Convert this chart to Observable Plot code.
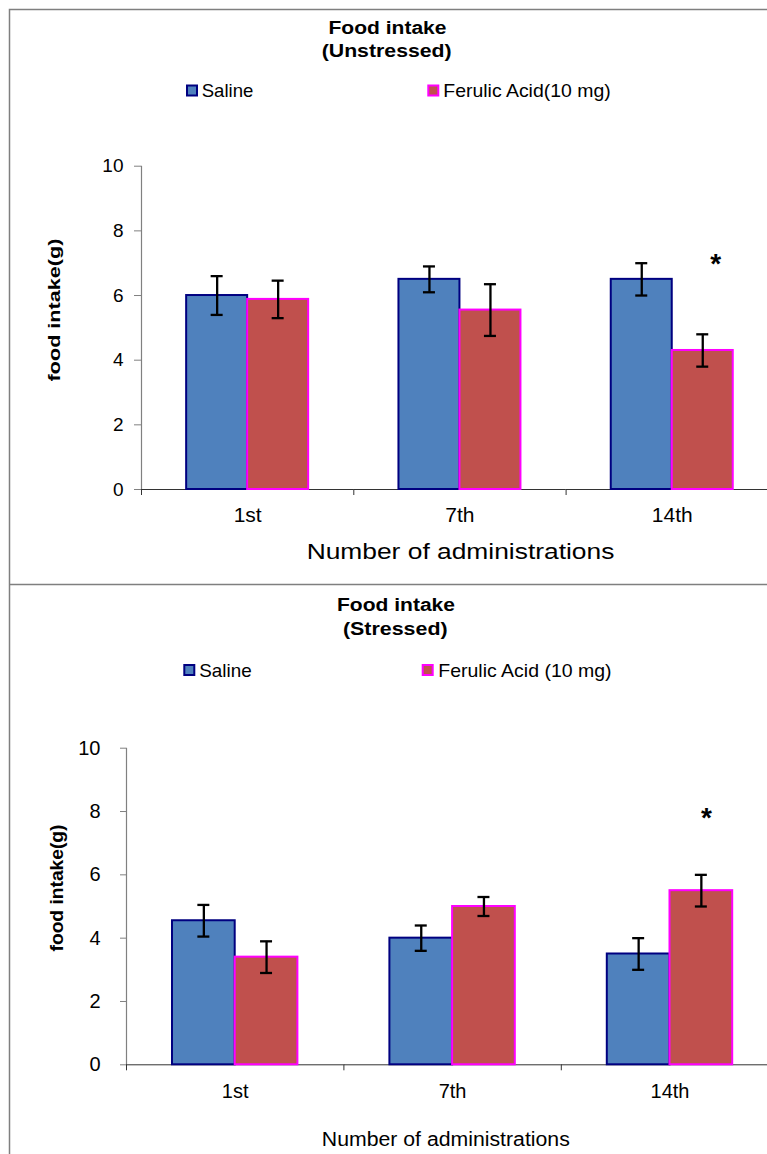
<!DOCTYPE html>
<html>
<head>
<meta charset="utf-8">
<script src="https://cdn.jsdelivr.net/npm/d3@7"></script>
<script src="https://cdn.jsdelivr.net/npm/@observablehq/plot@0.6"></script>
<style>
html, body { margin: 0; padding: 0; background: #fff; }
#page { position: relative; width: 767px; height: 1154px; overflow: hidden; font-family: "Liberation Sans", Arial, sans-serif; color: #000; }
.chart { position: absolute; left: 0; width: 800px; }
.chart svg { max-width: none !important; }
</style>
</head>
<body>
<div id="page"></div>
<script>
// ---------- data ----------
const categories = ["1st", "7th", "14th"];
const seriesKeys = ["Saline", "Ferulic Acid"];
const unstressedLegend = ["Saline", "Ferulic Acid(10 mg)"];
const stressedLegend = ["Saline", "Ferulic Acid (10 mg)"];

const unstressedSaline = [6.0, 6.5, 6.5];
const unstressedSalineErr = [0.6, 0.4, 0.5];
const unstressedFerulic = [5.88, 5.55, 4.3];
const unstressedFerulicErr = [0.58, 0.8, 0.5];

const stressedSaline = [4.55, 4.0, 3.5];
const stressedSalineErr = [0.5, 0.4, 0.5];
const stressedFerulic = [3.4, 5.0, 5.5];
const stressedFerulicErr = [0.5, 0.3, 0.5];

const yTicks = [0, 2, 4, 6, 8, 10];
const unstressedStar = [{category: "14th", value: 7.18}];
const stressedStar = [{category: "14th", value: 8.03}];

const titleMain = "Food intake";
const titleUnstressed = "(Unstressed)";
const titleStressed = "(Stressed)";
const xTitle = "Number of administrations";
const yTitle = "food intake(g)";

// ---------- helpers ----------
function buildRows(sal, salErr, fer, ferErr) {
  const rows = [];
  categories.forEach((c, i) => {
    rows.push({category: c, series: seriesKeys[0], value: sal[i], err: salErr[i]});
    rows.push({category: c, series: seriesKeys[1], value: fer[i], err: ferErr[i]});
  });
  return rows;
}

const FONT = "Liberation Sans, Arial, sans-serif";

function panel(cfg) {
  const rows = buildRows(cfg.sal, cfg.salErr, cfg.fer, cfg.ferErr);
  const width = 800;
  const marginRight = width - cfg.marginLeft - cfg.bandWidth * 3;
  const pOuter = (cfg.bandWidth / cfg.barW - 2) / 2;
  const cap = 12;
  const capInset = (cfg.barW - cap) / 2;
  const halfOff = cfg.bandWidth / 2 - cfg.barW / 2;
  const plot = Plot.plot({
    width,
    height: cfg.height,
    marginLeft: cfg.marginLeft,
    marginRight,
    marginTop: cfg.yTop,
    marginBottom: cfg.height - cfg.yZero,
    fx: {domain: categories, padding: 0, round: false, label: null},
    x: {domain: seriesKeys, paddingInner: 0, paddingOuter: pOuter, round: false, axis: null},
    y: {domain: [0, 10], axis: null},
    style: {fontFamily: FONT, background: "transparent", color: "#000", overflow: "visible", maxWidth: "none"},
    marks: [
      Plot.ruleY([0], {stroke: "#333", strokeWidth: 1}),
      Plot.barY(rows, {filter: d => d.series === seriesKeys[0], fx: "category", x: "series", y: "value",
        fill: "#4F81BD", stroke: "#000080", strokeWidth: 2}),
      Plot.barY(rows, {filter: d => d.series === seriesKeys[1], fx: "category", x: "series", y: "value",
        fill: "#C0504D", stroke: "#FF00FF", strokeWidth: 2}),
      Plot.ruleX(rows, {fx: "category", x: "series", y1: d => d.value - d.err, y2: d => d.value + d.err,
        stroke: "#000", strokeWidth: 2.3}),
      Plot.tickY(rows, {fx: "category", x: "series", y: d => d.value - d.err,
        insetLeft: capInset, insetRight: capInset, stroke: "#000", strokeWidth: 2.3}),
      Plot.tickY(rows, {fx: "category", x: "series", y: d => d.value + d.err,
        insetLeft: capInset, insetRight: capInset, stroke: "#000", strokeWidth: 2.3}),
      Plot.text(cfg.star, {fx: "category", x: () => seriesKeys[1], y: "value", text: () => "*",
        fontSize: 28, fontWeight: "bold", dx: cfg.starDx, dy: 7, fill: "#000"}),
      Plot.ruleX([categories[0]], {fx: d => d, x: () => seriesKeys[0], y1: 0, y2: 10,
        dx: -halfOff, stroke: "#808080", strokeWidth: 1.2}),
      Plot.axisY({ticks: yTicks, tickSize: cfg.yTickSize, tickPadding: cfg.yTickPadding,
        fontSize: cfg.yFont, stroke: "#808080", fill: "#000", label: null}),
      Plot.axisFx({anchor: "bottom", tickSize: 0, tickPadding: cfg.xTickPadding,
        fontSize: cfg.xFont, fill: "#000", label: null}),
      Plot.axisFx({anchor: "bottom", tickSize: 6, fill: "none", stroke: "#333",
        dx: -cfg.bandWidth / 2, label: null})
    ]
  });
  plot.style.maxWidth = "none";
  const div = document.createElement("div");
  div.className = "chart";
  div.style.top = cfg.top + "px";
  div.appendChild(plot);
  document.getElementById("page").appendChild(div);
}

panel({
  top: 0, height: 584, marginLeft: 141, bandWidth: 212.3, barW: 61,
  yTop: 165.7, yZero: 489,
  sal: unstressedSaline, salErr: unstressedSalineErr, fer: unstressedFerulic, ferErr: unstressedFerulicErr,
  star: unstressedStar, starDx: 13,
  yTickSize: 7, yTickPadding: 11, yFont: 19, xTickPadding: 18, xFont: 21
});

panel({
  top: 584, height: 570, marginLeft: 126, bandWidth: 217.4, barW: 62.7,
  yTop: 163.7, yZero: 480.3,
  sal: stressedSaline, salErr: stressedSalineErr, fer: stressedFerulic, ferErr: stressedFerulicErr,
  star: stressedStar, starDx: 5,
  yTickSize: 6, yTickPadding: 20, yFont: 20, xTickPadding: 19, xFont: 20
});

// ---------- overlay: frames, titles, legends, axis titles ----------
const ov = d3.select("#page").append("svg")
  .attr("width", 767).attr("height", 1154)
  .style("position", "absolute").style("left", 0).style("top", 0)
  .style("pointer-events", "none")
  .style("font-family", FONT);

ov.append("path")
  .attr("d", "M9.5,1154V9.5H767M9.5,584.5H767")
  .attr("fill", "none").attr("stroke", "#7f7f7f").attr("stroke-width", 1.5);

function txt(s, x, y, o) {
  const t = ov.append("text")
    .attr("x", x).attr("y", y)
    .attr("text-anchor", o.anchor || "middle")
    .attr("font-size", o.size)
    .attr("font-weight", o.weight || "normal")
    .attr("fill", "#000")
    .text(s);
  if (o.len) t.attr("textLength", o.len).attr("lengthAdjust", "spacingAndGlyphs");
  if (o.rotate) t.attr("transform", `rotate(${o.rotate},${x},${y})`);
  return t;
}

function swatch(x, y, fill, stroke) {
  ov.append("rect").attr("x", x + 1).attr("y", y + 1).attr("width", 10).attr("height", 10)
    .attr("fill", fill).attr("stroke", stroke).attr("stroke-width", 2);
}

// top panel
txt(titleMain, 387.5, 34, {size: 18, weight: "bold", len: 118});
txt(titleUnstressed, 386.7, 56.7, {size: 18, weight: "bold", len: 130});
swatch(186, 84.5, "#4F81BD", "#000080");
txt(unstressedLegend[0], 201.7, 97.3, {size: 18.5, anchor: "start", len: 51.6});
swatch(427.3, 84.5, "#C0504D", "#FF00FF");
txt(unstressedLegend[1], 443.3, 97.3, {size: 18.5, anchor: "start", len: 167.4});
txt(xTitle, 460.5, 559, {size: 22, len: 307.7});
txt(yTitle, 59.7, 310, {size: 17, weight: "bold", len: 143, rotate: -90});

// bottom panel
txt(titleMain, 396, 610.7, {size: 18, weight: "bold", len: 118});
txt(titleStressed, 395.3, 635, {size: 18, weight: "bold", len: 104.7});
swatch(183.3, 664, "#4F81BD", "#000080");
txt(stressedLegend[0], 199.3, 677.3, {size: 19, anchor: "start", len: 52.4});
swatch(421.7, 664, "#C0504D", "#FF00FF");
txt(stressedLegend[1], 438.3, 677.3, {size: 19, anchor: "start", len: 173.3});
txt(xTitle, 445.8, 1146, {size: 20, len: 248});
txt(yTitle, 63, 888, {size: 17.5, weight: "bold", len: 127, rotate: -90});
</script>
</body>
</html>
